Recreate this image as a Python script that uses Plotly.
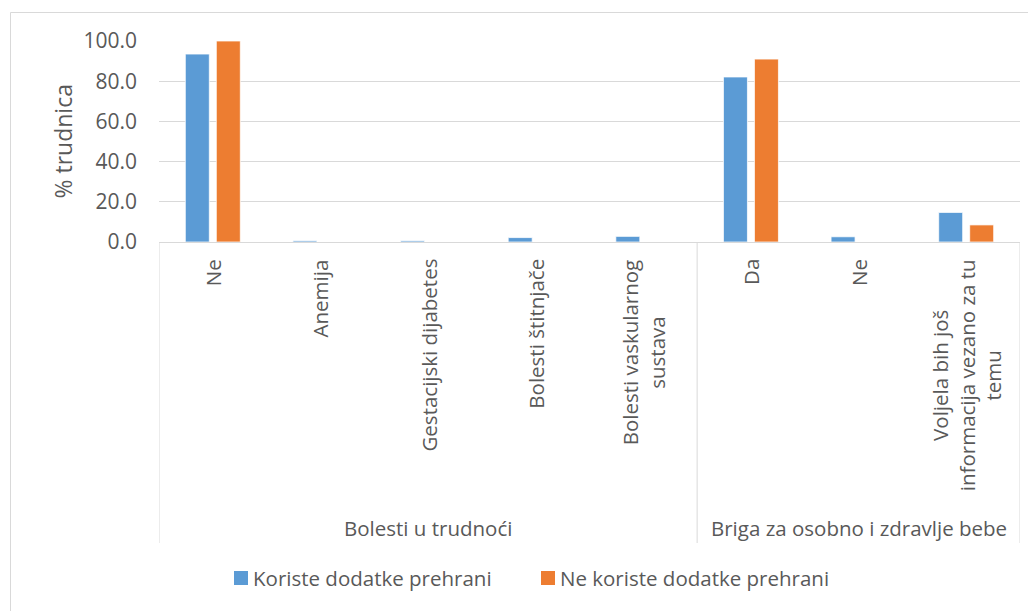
import plotly.graph_objects as go

# ---- data ----
groups = ["Bolesti u trudnoći", "Briga za osobno i zdravlje bebe"]
group_sizes = [5, 3]
categories = [
    "Ne",
    "Anemija",
    "Gestacijski dijabetes",
    "Bolesti štitnjače",
    "Bolesti vaskularnog<br>sustava",
    "Da",
    "Ne",
    "Voljela bih još<br>informacija vezano za tu<br>temu",
]
series_names = ["Koriste dodatke prehrani", "Ne koriste dodatke prehrani"]
koriste = [93.5, 0.6, 0.6, 2.2, 2.8, 82.1, 2.6, 14.7]
ne_koriste = [100.0, 0.0, 0.0, 0.0, 0.0, 91.0, 0.0, 8.5]
y_ticks = [0, 20, 40, 60, 80, 100]
y_title = "% trudnica"

# ---- style ----
OFF = 8  # page body margin
W, H = 1036 - OFF, 611 - OFF
PL, PR, PT, PB = 159, 1020, 41, 242  # plot area in screen pixels
FONT = "Open Sans, DejaVu Sans, sans-serif"
TXT = "#595959"
GRID = "#D9D9D9"
COLORS = ["#5B9BD5", "#ED7D31"]
FS = 20.5
LEGEND_X = [234, 541]  # screen px of legend swatches
LEGEND_Y = 578
SW = 14


def px_x(p):
    return (p - PL) / (PR - PL)


def px_y(p):
    return (PB - p) / (PB - PT)


xs = list(range(len(categories)))

fig = go.Figure()
for name, vals, col in zip(series_names, [koriste, ne_koriste], COLORS):
    fig.add_trace(go.Bar(x=xs, y=vals, name=name, showlegend=False,
                         marker=dict(color=col, line=dict(color="white", width=0.75))))

annotations = []
shapes = []

# category labels (rotated)
for i, c in enumerate(categories):
    annotations.append(dict(
        x=i, xref="x", y=px_y(257), yref="paper", text=c, showarrow=False,
        textangle=-90, xanchor="center", yanchor="top", align="center",
        font=dict(family=FONT, size=FS, color=TXT)))

# group labels and dividers
start = 0
bounds = [-0.5]
for g, n in zip(groups, group_sizes):
    center = start + (n - 1) / 2
    annotations.append(dict(
        x=center, xref="x", y=px_y(528), yref="paper", text=g, showarrow=False,
        xanchor="center", yanchor="middle",
        font=dict(family=FONT, size=FS, color=TXT)))
    start += n
    bounds.append(start - 0.5)

for b in bounds:
    shapes.append(dict(type="line", xref="x", yref="paper", x0=b, x1=b,
                       y0=0, y1=px_y(543), line=dict(color=GRID, width=1)))

# y-axis title
annotations.append(dict(
    x=px_x(62), xref="paper", y=0.5, yref="paper", text=y_title, showarrow=False,
    textangle=-90, xanchor="center", yanchor="middle",
    font=dict(family=FONT, size=23, color=TXT)))

# legend (swatch + label)
for name, col, lx in zip(series_names, COLORS, LEGEND_X):
    shapes.append(dict(type="rect", xref="paper", yref="paper",
                       x0=px_x(lx), x1=px_x(lx + SW),
                       y0=px_y(LEGEND_Y - SW / 2), y1=px_y(LEGEND_Y + SW / 2),
                       line=dict(width=0), fillcolor=col))
    annotations.append(dict(
        x=px_x(lx + SW + 4), xref="paper", y=px_y(LEGEND_Y), yref="paper",
        text=name, showarrow=False, xanchor="left", yanchor="middle", borderpad=0,
        font=dict(family=FONT, size=FS, color=TXT)))

# chart border
shapes.append(dict(type="rect", xref="paper", yref="paper",
                   x0=px_x(10.5), x1=px_x(1060), y0=px_y(12.5), y1=px_y(640),
                   line=dict(color=GRID, width=1), fillcolor="rgba(0,0,0,0)", layer="below"))

fig.update_layout(
    width=W, height=H,
    margin=dict(l=PL - OFF, r=W - (PR - OFF), t=PT - OFF, b=H - (PB - OFF), autoexpand=False),
    paper_bgcolor="white", plot_bgcolor="white",
    barmode="group", bargap=0.424, bargroupgap=0.226,
    font=dict(family=FONT, size=FS, color=TXT),
    showlegend=False,
    annotations=annotations,
    shapes=shapes,
)
fig.update_xaxes(range=[-0.5, len(categories) - 0.5], showticklabels=False,
                 showgrid=False, zeroline=False, showline=True, linecolor=GRID,
                 linewidth=1, ticks="", fixedrange=True)
fig.update_yaxes(range=[0, 100], tickvals=y_ticks, tickformat=".1f",
                 showgrid=True, gridcolor=GRID, gridwidth=1, zeroline=False,
                 showline=False, ticks="", ticklabelstandoff=21,
                 tickfont=dict(family=FONT, size=21, color=TXT))

fig.write_html("out.html")
